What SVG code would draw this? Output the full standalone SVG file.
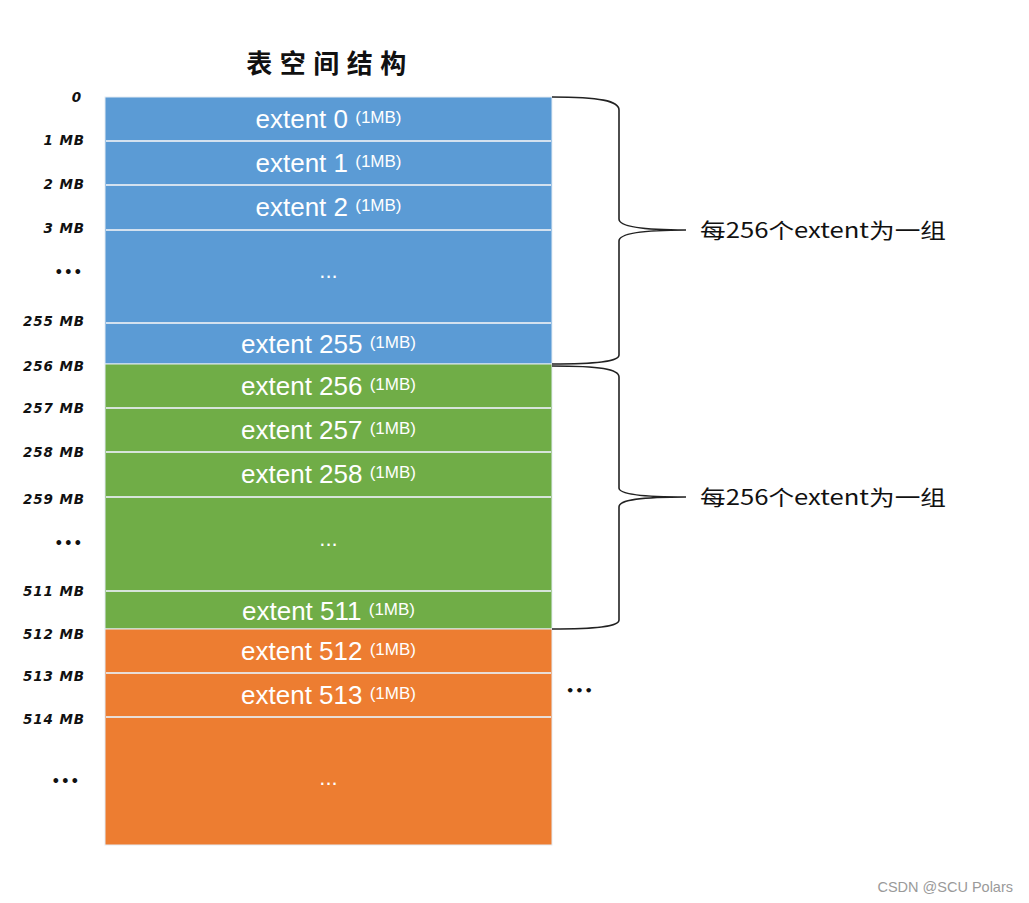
<svg xmlns="http://www.w3.org/2000/svg" width="1029" height="903" viewBox="0 0 1029 903">
<style>
.cell{stroke:#e4ecf4;stroke-width:1}
.blue{fill:#5B9BD5}
.green{fill:#70AD47}
.orange{fill:#ED7D31}
.sep{stroke:#e8eef4;stroke-width:2;opacity:0.85}
.ct{font-family:"Liberation Sans",Arial,sans-serif;font-size:26px;fill:#ffffff;text-anchor:middle}
.sm{font-size:17px}
.dots{font-family:"Liberation Sans",Arial,sans-serif;font-size:22px;fill:#ffffff;text-anchor:middle}
.lbl{font-family:"DejaVu Sans",sans-serif;font-size:13.5px;font-weight:bold;font-style:italic;fill:#111;text-anchor:end;letter-spacing:0.9px}
.brace{fill:none;stroke:#222;stroke-width:1.6}
.note{font-family:"Noto Sans CJK SC",sans-serif;font-size:21px;fill:#111}
</style>
<rect width="1029" height="903" fill="#ffffff"/>
<text x="330" y="73" font-family="Noto Sans CJK SC,sans-serif" font-size="26" font-weight="bold" fill="#111" text-anchor="middle" letter-spacing="7.5">表空间结构</text>

<g id="blue-group">
<rect class="cell blue" x="105" y="97" width="447" height="267"/>
<line class="sep" x1="106" y1="141" x2="551" y2="141"/>
<line class="sep" x1="106" y1="185" x2="551" y2="185"/>
<line class="sep" x1="106" y1="230" x2="551" y2="230"/>
<line class="sep" x1="106" y1="323" x2="551" y2="323"/>
</g>
<g id="green-group">
<rect class="cell green" x="105" y="364" width="447" height="265"/>
<line class="sep" x1="106" y1="408" x2="551" y2="408"/>
<line class="sep" x1="106" y1="452" x2="551" y2="452"/>
<line class="sep" x1="106" y1="497" x2="551" y2="497"/>
<line class="sep" x1="106" y1="591" x2="551" y2="591"/>
</g>
<g id="orange-group">
<rect class="cell orange" x="105" y="629" width="447" height="216"/>
<line class="sep" x1="106" y1="673" x2="551" y2="673"/>
<line class="sep" x1="106" y1="717" x2="551" y2="717"/>
</g>

<g id="extent-0"><text class="ct" x="328.5" y="128">extent 0 <tspan class="sm" dy="-5">(1MB)</tspan></text></g>
<g id="extent-1"><text class="ct" x="328.5" y="172">extent 1 <tspan class="sm" dy="-5">(1MB)</tspan></text></g>
<g id="extent-2"><text class="ct" x="328.5" y="216">extent 2 <tspan class="sm" dy="-5">(1MB)</tspan></text></g>
<g id="blue-more"><text class="dots" x="328.5" y="278">...</text></g>
<g id="extent-255"><text class="ct" x="328.5" y="353">extent 255 <tspan class="sm" dy="-5">(1MB)</tspan></text></g>
<g id="extent-256"><text class="ct" x="328.5" y="395">extent 256 <tspan class="sm" dy="-5">(1MB)</tspan></text></g>
<g id="extent-257"><text class="ct" x="328.5" y="439">extent 257 <tspan class="sm" dy="-5">(1MB)</tspan></text></g>
<g id="extent-258"><text class="ct" x="328.5" y="483">extent 258 <tspan class="sm" dy="-5">(1MB)</tspan></text></g>
<g id="green-more"><text class="dots" x="328.5" y="546">...</text></g>
<g id="extent-511"><text class="ct" x="328.5" y="620">extent 511 <tspan class="sm" dy="-5">(1MB)</tspan></text></g>
<g id="extent-512"><text class="ct" x="328.5" y="660">extent 512 <tspan class="sm" dy="-5">(1MB)</tspan></text></g>
<g id="extent-513"><text class="ct" x="328.5" y="704">extent 513 <tspan class="sm" dy="-5">(1MB)</tspan></text></g>
<g id="orange-more"><text class="dots" x="328.5" y="785">...</text></g>

<g id="offset-labels">
<text class="lbl" x="82" y="102">0</text>
<text class="lbl" x="85" y="145">1 MB</text>
<text class="lbl" x="85" y="189">2 MB</text>
<text class="lbl" x="85" y="233">3 MB</text>
<text class="lbl" x="83" y="277" letter-spacing="2">•••</text>
<text class="lbl" x="85" y="326">255 MB</text>
<text class="lbl" x="85" y="371">256 MB</text>
<text class="lbl" x="85" y="413">257 MB</text>
<text class="lbl" x="85" y="457">258 MB</text>
<text class="lbl" x="85" y="504">259 MB</text>
<text class="lbl" x="83" y="548" letter-spacing="2">•••</text>
<text class="lbl" x="85" y="596">511 MB</text>
<text class="lbl" x="85" y="639">512 MB</text>
<text class="lbl" x="85" y="681">513 MB</text>
<text class="lbl" x="85" y="724">514 MB</text>
<text class="lbl" x="80" y="786" letter-spacing="2">•••</text>
</g>

<g id="connectors">
<path class="brace" d="M552,97 C600,97 619,101 619,110 L619,219 C619,226 640,230 686,230 C640,230 619,234 619,241 L619,355 C619,361 600,364 552,364"/>
<path class="brace" d="M552,366 C600,366 619,369 619,377 L619,488 C619,494 640,497 686,497 C640,497 619,500 619,507 L619,620 C619,626 600,629 552,629"/>
</g>

<g id="group-note-1"><text class="note" x="700" y="238" textLength="246" lengthAdjust="spacingAndGlyphs">每256个extent为一组</text></g>
<g id="group-note-2"><text class="note" x="700" y="505" textLength="246" lengthAdjust="spacingAndGlyphs">每256个extent为一组</text></g>
<g id="more-right"><text font-family="DejaVu Sans,sans-serif" font-size="13" font-weight="bold" fill="#111" x="566" y="695" letter-spacing="1">•••</text></g>

<text x="1013" y="892" font-family="Liberation Sans,Arial,sans-serif" font-size="14.5" fill="#9a9a9a" text-anchor="end">CSDN @SCU Polars</text>
</svg>
